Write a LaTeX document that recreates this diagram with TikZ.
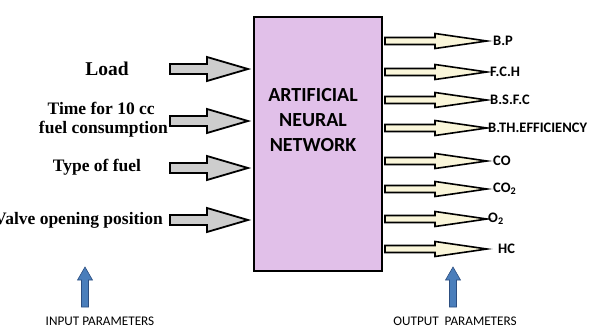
\documentclass[tikz,border=0pt]{standalone}
\usepackage{fontspec}
\setmainfont{Liberation Serif}
\newfontfamily\calib{Carlito}
\definecolor{annfill}{RGB}{225,192,233}
\definecolor{outfill}{RGB}{250,246,218}
\definecolor{infill}{RGB}{205,205,205}
\definecolor{bluefill}{RGB}{74,126,187}
\definecolor{blueline}{RGB}{44,78,128}
\tikzset{
  annbox/.style={draw=black, line width=2.4pt, fill=annfill},
  inarrow/.style={draw=black, line width=1.8pt, fill=infill, line join=miter},
  outarrow/.style={draw=black, line width=1.6pt, fill=outfill, line join=miter},
  bluearrow/.style={draw=blueline, line width=0.6pt, fill=bluefill},
  inlabel/.style={font=\fontsize{17.5}{19}\selectfont\bfseries, inner sep=0pt, align=center},
  outlabel/.style={font=\calib\fontsize{14.5}{16}\selectfont\bfseries, inner sep=0pt, anchor=west},
  paramlabel/.style={font=\calib\fontsize{13.2}{15}\selectfont, inner sep=0pt},
}
\newcommand{\inarr}[2]{%
  \draw[inarrow] (170,#2-5) -- (207,#2-5) -- (207,#2-12) -- (248,#2) -- (207,#2+12) -- (207,#2+5) -- (170,#2+5) -- cycle;
  \coordinate (#1) at (248,#2);}
\newcommand{\outarr}[2]{%
  \draw[outarrow] (385,#2-3.5) -- (435,#2-3.5) -- (435,#2-7.5) -- (487,#2) -- (435,#2+7.5) -- (435,#2+3.5) -- (385,#2+3.5) -- cycle;
  \coordinate (#1) at (487,#2);}
\newcommand{\bluearr}[2]{%
  \draw[bluearrow] (#2-3.5,307) -- (#2-3.5,280) -- (#2-7.5,280) -- (#2,267) -- (#2+7.5,280) -- (#2+3.5,280) -- (#2+3.5,307) -- cycle;
  \coordinate (#1) at (#2,267);}
\begin{document}
\begin{tikzpicture}[x=1pt,y=-1pt]
\useasboundingbox (0,0) rectangle (593,329);
\clip (0,0) rectangle (593,329);
% central box
\draw[annbox] (254,17) rectangle (382,271);
\node[font=\calib\fontsize{20}{25}\selectfont\bfseries, align=center, inner sep=0pt] (ann) at (313,120) {ARTIFICIAL\\NEURAL\\NETWORK};
% input arrows
\inarr{a1}{69}
\inarr{a2}{121}
\inarr{a3}{168}
\inarr{a4}{220}
\node[inlabel, font=\fontsize{19.5}{21}\selectfont\bfseries] (load) at (107,69) {Load};
\node[inlabel, anchor=east] (time) at (168,120) {Time for 10 cc\\\ fuel consumption};
\node[inlabel] (type) at (97,167) {Type of fuel};
\node[inlabel, anchor=east] (valve) at (163,220) {Valve opening position};
% output arrows
\outarr{b1}{41}
\outarr{b2}{72}
\outarr{b3}{100}
\outarr{b4}{128}
\outarr{b5}{161}
\outarr{b6}{189}
\outarr{b7}{219}
\outarr{b8}{249}
\node[outlabel] (bp) at (493,41) {B.P};
\node[outlabel] (fch) at (490,72) {F.C.H};
\node[outlabel] (bsfc) at (490,100) {B.S.F.C};
\node[outlabel] (bth) at (488,128) {B.TH.EFFICIENCY};
\node[outlabel] (co) at (493,161) {CO};
\node[outlabel] (co2) at (493,189) {CO\textsubscript{2}};
\node[outlabel] (o2) at (488,219) {O\textsubscript{2}};
\node[outlabel] (hc) at (498,249) {HC};
% blue arrows
\bluearr{u1}{85}
\bluearr{u2}{453}
\node[paramlabel] (inp) at (100,321.5) {INPUT PARAMETERS};
\node[paramlabel] (outp) at (455,321.5) {OUTPUT\ \ PARAMETERS};
\end{tikzpicture}
\end{document}
